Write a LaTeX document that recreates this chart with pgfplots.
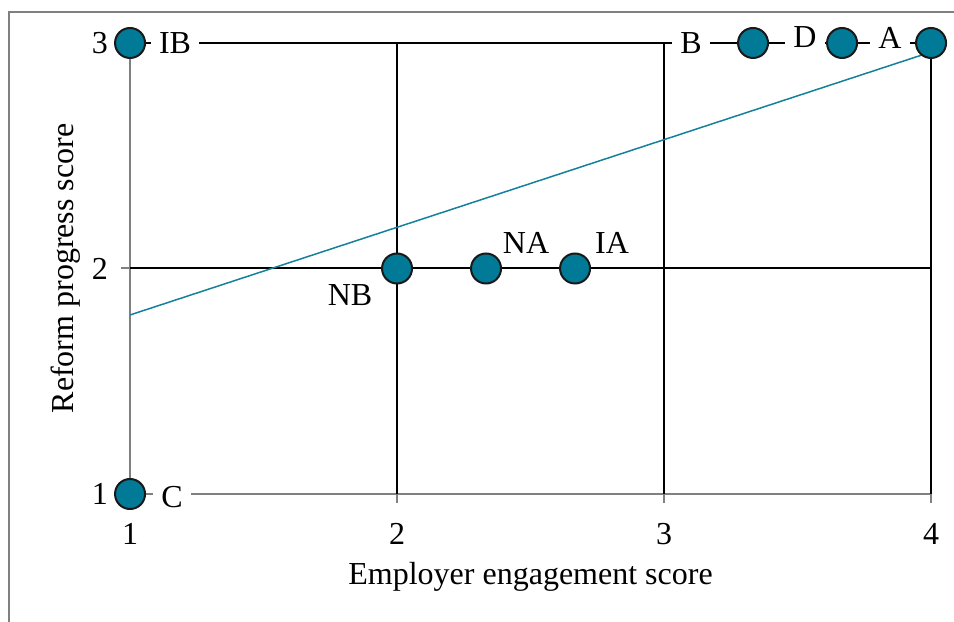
\documentclass[border=0pt]{standalone}
\usepackage{fontspec}
\setmainfont{Liberation Serif}
\usepackage{pgfplots}
\pgfplotsset{compat=1.18}
\usepackage{pgfplotstable}
\definecolor{teal1}{RGB}{0,122,150}
\definecolor{trend}{RGB}{20,128,155}
\definecolor{axgray}{RGB}{128,128,128}

% x y label dx dy (label offset in pt)
\pgfplotstableread{
x      y  label dx    dy
1      3  IB    22.5  0
1      1  C     21   -1.5
2      2  NB   -23.5 -13.5
2.3333 2  NA    20    13
2.6667 2  IA    18.5  13
3.3333 3  B    -31    0
3.6667 3  D    -18.5  3
4      3  A    -20.5  2.5
}\scores

\begin{document}
\fontsize{16}{19}\selectfont
\begin{tikzpicture}
\begin{axis}[
  scale only axis,
  width=400.5pt, height=225.5pt,
  xmin=1, xmax=4, ymin=1, ymax=3,
  axis x line*=bottom, axis y line*=left,
  axis line style={axgray, line width=1pt, -},
  xtick={1,2,3,4}, ytick={1,2,3},
  tick style={axgray, line width=1pt},
  tick align=outside, major tick length=4.5pt,
  extra x ticks={2,3,4}, extra x tick labels={},
  extra x tick style={grid=major, major tick length=0pt},
  extra y ticks={2,3}, extra y tick labels={},
  extra y tick style={grid=major, major tick length=0pt},
  major grid style={black, line width=1pt},
  clip=false,
  /pgf/number format/assume math mode=true,
  ticklabel style={font=\fontsize{16}{19}\selectfont},
  xticklabel style={yshift=-4.5pt},
  yticklabel style={xshift=-1pt},
  xlabel={Employer engagement score},
  ylabel={Reform progress score},
  label style={font=\fontsize{16}{19}\selectfont},
  xlabel style={yshift=6.5pt},
  ylabel style={yshift=-9.5pt},
]
\coordinate (bl) at (axis cs:0.513,0.4324);
\coordinate (tr) at (axis cs:4.086,3.1907);
\coordinate (f1) at (axis cs:0.5468,0.40);
\coordinate (f2) at (axis cs:0.5468,3.1375);
\coordinate (f3) at (axis cs:4.10,3.1375);

\addplot[trend, line width=0.75pt, no marks] coordinates {(1,1.794) (4,2.96)};

\addplot[
  only marks, mark=*, mark size=7.5pt,
  mark options={fill=teal1, draw=black!90, line width=1pt},
  point meta=explicit symbolic,
  visualization depends on={\thisrow{dx} \as \dx},
  visualization depends on={\thisrow{dy} \as \dy},
  nodes near coords={\pgfplotspointmeta},
  every node near coord/.style={anchor=center, fill=white, inner xsep=4pt,
    inner ysep=1pt, xshift=\dx pt, yshift=\dy pt,
    font=\fontsize{16}{19}\selectfont},
] table[x=x, y=y, meta=label] {\scores};
\end{axis}
\draw[axgray, line width=1pt] (f1) -- (f2) -- (f3);
\pgfresetboundingbox
\useasboundingbox (bl) rectangle (tr);
\end{tikzpicture}
\end{document}
